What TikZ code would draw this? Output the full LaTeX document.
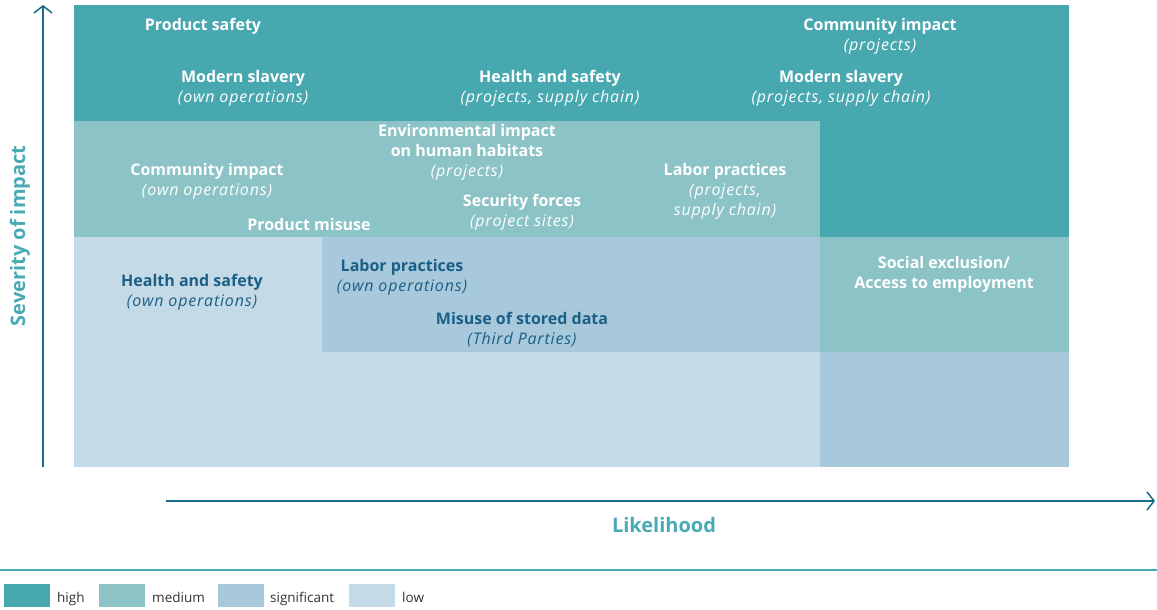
\documentclass[tikz,border=0pt]{standalone}
\usepackage{fontspec}
\setmainfont{Open Sans}
\newfontfamily\subfont{Open Sans}[LetterSpace=5]
\usetikzlibrary{arrows.meta}
\definecolor{cHigh}{HTML}{48A8B0}
\definecolor{cMedium}{HTML}{8CC3C6}
\definecolor{cSignif}{HTML}{A7C9DB}
\definecolor{cLow}{HTML}{C4DAE6}
\definecolor{axisblue}{HTML}{1B6A8E}
\definecolor{labelteal}{HTML}{4AAAB4}
\definecolor{darktext}{HTML}{1B5F87}
\definecolor{legendtext}{HTML}{333333}
\tikzset{
  risk/.style={align=center, inner sep=0pt, text=white,
    font=\fontsize{16}{20}\selectfont\bfseries},
  riskdark/.style={risk, text=darktext},
  axislabel/.style={inner sep=0pt, text=labelteal,
    font=\fontsize{20}{24}\selectfont\bfseries},
  axisline/.style={draw=axisblue, line width=1.5pt,
    -{Straight Barb[length=7pt,width=18pt,line width=1.5pt]}},
  legendbox/.style={fill=#1, draw=none, minimum width=46pt, minimum height=23pt,
    inner sep=0pt, anchor=north west},
  legendlabel/.style={inner sep=0pt, anchor=base west, text=legendtext,
    font=\fontsize{13.5}{15}\selectfont},
}
\newcommand{\sub}[1]{{\subfont\mdseries\itshape #1}}
\begin{document}
\begin{tikzpicture}[x=1pt,y=-1pt]
\useasboundingbox (0,0) rectangle (1157,610);

% matrix cells
\fill[cLow]    (74,237)  rectangle (322,467);
\fill[cLow]    (322,352) rectangle (820,467);
\fill[cSignif] (322,237) rectangle (820,352);
\fill[cSignif] (820,352) rectangle (1069,467);
\fill[cMedium] (74,121)  rectangle (820,237);
\fill[cMedium] (820,237) rectangle (1069,352);
\fill[cHigh]   (74,5)    rectangle (820,121);
\fill[cHigh]   (820,5)   rectangle (1069,237);

% axes
\coordinate (ybase) at (43,467);
\coordinate (ytip)  at (43,5);
\coordinate (xbase) at (166,501);
\coordinate (xtip)  at (1155,501);
\draw[axisline] (ybase) -- (ytip);
\draw[axisline] (xbase) -- (xtip);
\node[axislabel, rotate=90] (sev) at (20,236) {Severity of impact};
\node[axislabel] (lik) at (664,525) {Likelihood};

% high
\node[risk] (ps)  at (203,26) {Product safety};
\node[risk] (ms1) at (243,88) {Modern slavery\\\sub{(own operations)}};
\node[risk] (hs1) at (550,88) {Health and safety\\\sub{(projects, supply chain)}};
\node[risk] (ci1) at (880,36) {Community impact\\\sub{(projects)}};
\node[risk] (ms2) at (841,88) {Modern slavery\\\sub{(projects, supply chain)}};

% medium
\node[risk] (env) at (467,152) {Environmental impact\\on human habitats\\\sub{(projects)}};
\node[risk] (ci2) at (207,181) {Community impact\\\sub{(own operations)}};
\node[risk] (lp1) at (725,191) {Labor practices\\\sub{(projects,}\\\sub{supply chain)}};
\node[risk] (sf)  at (522,212) {Security forces\\\sub{(project sites)}};
\node[risk] (pm)  at (309,224) {Product misuse};
\node[risk] (se)  at (944,274) {Social exclusion/\\Access to employment};

% significant / low
\node[riskdark] (hs2) at (192,292) {Health and safety\\\sub{(own operations)}};
\node[riskdark] (lp2) at (402,277) {Labor practices\\\sub{(own operations)}};
\node[riskdark] (msd) at (522,330) {Misuse of stored data\\\sub{(Third Parties)}};

% separator
\draw[labelteal, line width=2pt] (0,570) -- (1157,570);

% legend
\node[legendbox=cHigh]   (lb1) at (4,584) {};
\node[legendlabel]       (lt1) at (57,602) {high};
\node[legendbox=cMedium] (lb2) at (99,584) {};
\node[legendlabel]       (lt2) at (152,602) {medium};
\node[legendbox=cSignif] (lb3) at (218,584) {};
\node[legendlabel]       (lt3) at (270,602) {significant};
\node[legendbox=cLow]    (lb4) at (349,584) {};
\node[legendlabel]       (lt4) at (402,602) {low};
\end{tikzpicture}
\end{document}
